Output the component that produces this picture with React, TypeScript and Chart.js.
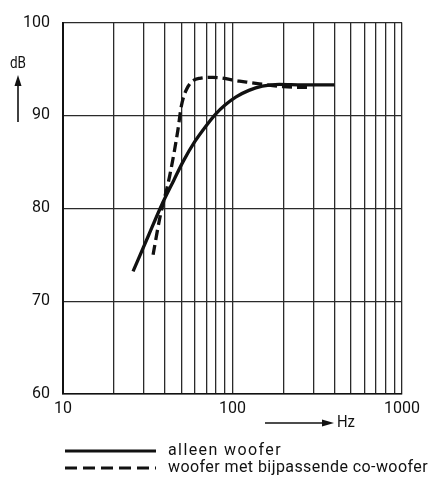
import React, { useEffect, useRef } from "react";
import { Chart, registerables } from "chart.js";

Chart.register(...registerables);

const xTickValues = [10, 20, 30, 40, 50, 60, 70, 80, 90, 100, 200, 300, 400, 500, 600, 700, 800, 900, 1000];
const xTickLabels = ["10", "100", "1000"];
const yTickValues = [60, 70, 80, 90, 100];

const soloFreq = [25.9, 32, 38.1, 45, 51, 60, 70, 80, 90, 105, 125, 150, 189, 260, 400];
const soloDb = [73.2, 77.1, 80.3, 83.0, 85.0, 87.2, 88.9, 90.2, 91.1, 92.0, 92.7, 93.15, 93.35, 93.3, 93.3];

const comboFreq = [34, 37.2, 42.6, 47.7, 49.9, 54.6, 64, 76.6, 110, 144, 200, 295];
const comboDb = [75.0, 78.9, 83.5, 88.5, 91.0, 93.1, 94.0, 94.1, 93.7, 93.4, 93.1, 93.0];

const legendLabels = ["alleen woofer", "woofer met bijpassende co-woofer"];
const xUnit = "Hz";
const yUnit = "dB";

const FONT = 'Roboto, "DejaVu Sans", sans-serif';
const INK = "#111";

function fitText(ctx: CanvasRenderingContext2D, text: string, x: number, y: number, width: number) {
  (ctx as any).letterSpacing = "0px";
  const w = ctx.measureText(text).width;
  const extra = (width - w) / Math.max(1, text.length);
  if (extra >= 0) {
    (ctx as any).letterSpacing = `${extra}px`;
    ctx.fillText(text, x, y);
  } else {
    ctx.save();
    ctx.translate(x, y);
    ctx.scale(width / w, 1);
    ctx.fillText(text, 0, 0);
    ctx.restore();
  }
  (ctx as any).letterSpacing = "0px";
}

const annotations = {
  id: "annotations",
  afterDraw(chart: any) {
    const ctx = chart.ctx as CanvasRenderingContext2D;
    ctx.save();
    ctx.fillStyle = INK;
    ctx.strokeStyle = INK;
    // y unit
    ctx.font = `16px ${FONT}`;
    ctx.textAlign = "left";
    ctx.textBaseline = "middle";
    fitText(ctx, yUnit, 10, 64, 16);
    ctx.lineWidth = 1.6;
    ctx.beginPath();
    ctx.moveTo(18, 122);
    ctx.lineTo(18, 84);
    ctx.stroke();
    ctx.beginPath();
    ctx.moveTo(18, 75);
    ctx.lineTo(14.5, 86);
    ctx.lineTo(21.5, 86);
    ctx.closePath();
    ctx.fill();
    // x unit
    ctx.beginPath();
    ctx.moveTo(265, 423);
    ctx.lineTo(324, 423);
    ctx.stroke();
    ctx.beginPath();
    ctx.moveTo(334, 423);
    ctx.lineTo(322, 419.5);
    ctx.lineTo(322, 426.5);
    ctx.closePath();
    ctx.fill();
    fitText(ctx, xUnit, 337, 423, 18);
    // legend
    const rows = [451, 468];
    const dashes = [[], [12, 6]];
    const widths = [114, 260];
    legendLabels.forEach((label, i) => {
      ctx.lineWidth = 3.2;
      ctx.setLineDash(dashes[i]);
      ctx.beginPath();
      ctx.moveTo(65, rows[i]);
      ctx.lineTo(156, rows[i]);
      ctx.stroke();
      ctx.setLineDash([]);
      ctx.font = `16px ${FONT}`;
      fitText(ctx, label, 168, rows[i], widths[i]);
    });
    ctx.restore();
  },
};

export default function App() {
  const ref = useRef<HTMLCanvasElement>(null);
  useEffect(() => {
    document.body.style.margin = "0";
    const canvas = ref.current!;
    const chart = new Chart(canvas, {
      type: "line",
      data: {
        datasets: [
          {
            label: legendLabels[0],
            data: soloFreq.map((f, i) => ({ x: f, y: soloDb[i] })),
            borderColor: INK,
            borderWidth: 3.3,
            pointRadius: 0,
            cubicInterpolationMode: "monotone",
            fill: false,
          },
          {
            label: legendLabels[1],
            data: comboFreq.map((f, i) => ({ x: f, y: comboDb[i] })),
            borderColor: INK,
            borderWidth: 3.3,
            borderDash: [10, 5],
            pointRadius: 0,
            cubicInterpolationMode: "monotone",
            fill: false,
          },
        ],
      },
      options: {
        animation: false,
        responsive: false,
        devicePixelRatio: 1,
        layout: { padding: { top: 19, right: 40, left: 0, bottom: 0 } },
        plugins: { legend: { display: false }, tooltip: { enabled: false } },
        scales: {
          x: {
            type: "logarithmic",
            min: 10,
            max: 1000,
            afterFit: (s: any) => {
              s.height = 83;
            },
            afterBuildTicks: (s: any) => {
              s.ticks = xTickValues.map((v) => ({ value: v }));
            },
            ticks: {
              autoSkip: false,
              maxRotation: 0,
              padding: 5,
              color: INK,
              font: { family: FONT, size: 16 },
              callback: (v: any) => {
                const s = String(v);
                return xTickLabels.includes(s) ? s : "";
              },
            },
            grid: { color: "#2a2a2a", lineWidth: 1.3, drawTicks: false },
            border: { display: true, color: INK, width: 1.6 },
          },
          y: {
            type: "linear",
            min: 60,
            max: 100,
            afterFit: (s: any) => {
              s.width = 63;
            },
            afterBuildTicks: (s: any) => {
              s.ticks = yTickValues.map((v) => ({ value: v }));
            },
            ticks: {
              padding: 13,
              color: INK,
              font: { family: FONT, size: 16 },
            },
            grid: { color: "#2a2a2a", lineWidth: 1.3, drawTicks: false },
            border: { display: true, color: INK, width: 2 },
          },
        },
      },
      plugins: [annotations],
    });
    return () => chart.destroy();
  }, []);
  return <canvas ref={ref} width={442} height={477} style={{ display: "block" }} />;
}
